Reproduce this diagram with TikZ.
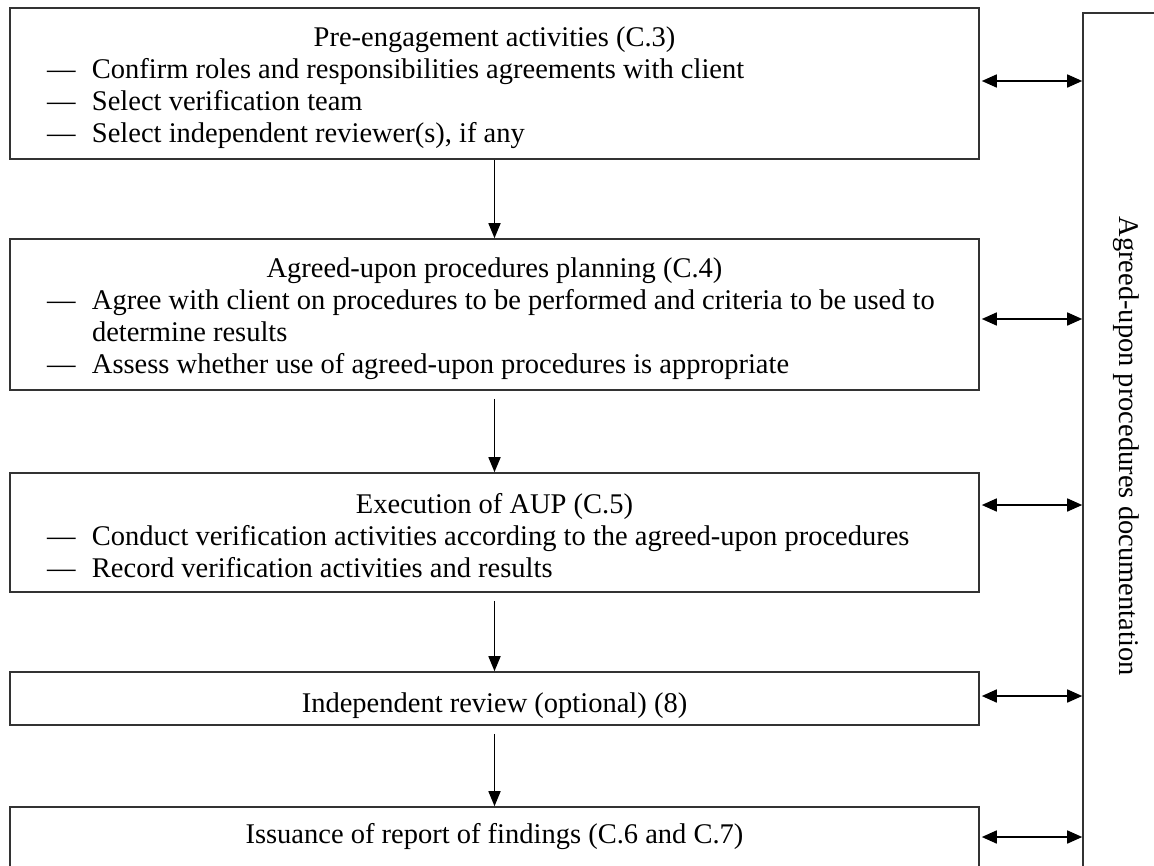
\documentclass[tikz,border=0pt]{standalone}
\usepackage{fontspec}
\setmainfont{Liberation Serif}
\usepackage{tikz}
\usetikzlibrary{shapes,arrows.meta,positioning}

\newcommand{\bul}[1]{\par\noindent\makebox[45pt][l]{\textemdash}#1}
\newcommand{\cont}[1]{\par\noindent\hspace*{45pt}#1}

\tikzset{
    stagebox/.style={draw=black!80, line width=1.6pt, minimum width=969pt, inner sep=0pt,
        font=\fontsize{28.5pt}{32pt}\selectfont},
    flow/.style={-{Triangle[length=15pt,width=12pt]}, line width=1.6pt},
    link/.style={{Triangle[length=15pt,width=13pt]}-{Triangle[length=15pt,width=13pt]}, line width=1.6pt}
}

\begin{document}
\begin{tikzpicture}[x=1pt,y=1pt,yscale=-1,xscale=1]
    \useasboundingbox[fill=white] (0,0) rectangle (1154,865);

    %Shape: Rectangle (pre-engagement)
    \node[stagebox, minimum height=151pt] (pre) at (494.5,83.5) {\begin{minipage}{895pt}\vspace*{8pt}
    \centering Pre-engagement activities (C.3)\par\raggedright
    \bul{Confirm roles and responsibilities agreements with client}
    \bul{Select verification team}
    \bul{Select independent reviewer(s), if any}
    \end{minipage}};

    %Shape: Rectangle (planning)
    \node[stagebox, minimum height=151pt] (plan) at (494.5,314.5) {\begin{minipage}{895pt}\vspace*{8pt}
    \centering Agreed-upon procedures planning (C.4)\par\raggedright
    \bul{Agree with client on procedures to be performed and criteria to be used to}
    \cont{determine results}
    \bul{Assess whether use of agreed-upon procedures is appropriate}
    \end{minipage}};

    %Shape: Rectangle (execution)
    \node[stagebox, minimum height=119pt] (exec) at (494.5,532.5) {\begin{minipage}{895pt}\vspace*{6pt}
    \centering Execution of AUP (C.5)\par\raggedright
    \bul{Conduct verification activities according to the agreed-upon procedures}
    \bul{Record verification activities and results}
    \end{minipage}};

    %Shape: Rectangle (review)
    \node[stagebox, minimum height=53pt, text height=27pt, text depth=0pt] (review) at (494.5,698.5) {Independent review (optional) (8)};

    %Shape: Rectangle (report)
    \node[stagebox, minimum height=60pt] (report) at (494.5,837) {Issuance of report of findings (C.6 and C.7)};

    %Shape: Rectangle (documentation)
    \node[stagebox, minimum width=866pt, minimum height=86pt, rotate=-90] (doc) at (1126,446) {Agreed-upon procedures documentation};

    %Straight Lines (flow down)
    \draw[flow] (pre.south) -- (plan.north);
    \draw[flow, shorten <=8pt] (plan.south) -- (exec.north);
    \draw[flow, shorten <=8pt] (exec.south) -- (review.north);
    \draw[flow, shorten <=8pt] (review.south) -- (report.north);

    %Straight Lines (links to documentation)
    \coordinate (l1) at ([yshift=-2.5pt]pre.east);
    \coordinate (l2) at ([yshift=4.5pt]plan.east);
    \coordinate (l3) at ([yshift=-27.5pt]exec.east);
    \coordinate (l4) at ([yshift=-2.5pt]review.east);
    \coordinate (l5) at (report.east);
    \foreach \l in {l1,l2,l3,l4,l5}
        \draw[link, shorten <=2pt] (\l) -- (\l -| doc.south);

\end{tikzpicture}
\end{document}
